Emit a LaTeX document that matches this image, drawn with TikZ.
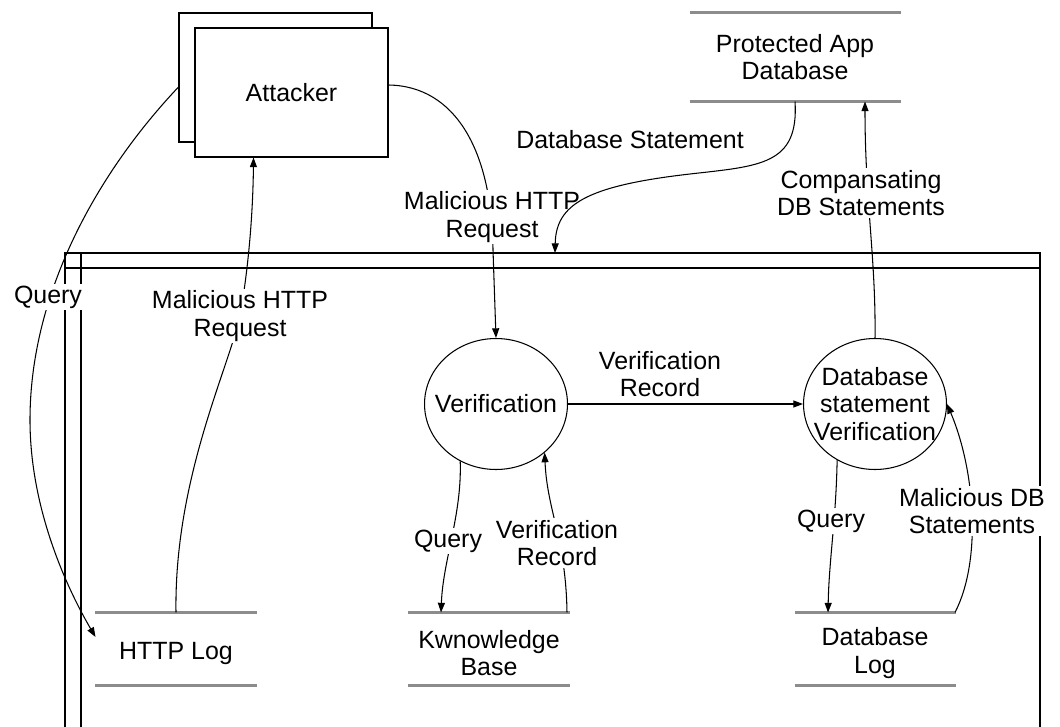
\documentclass[tikz,border=0pt]{standalone}
\usepackage{fontspec}
\setmainfont{Liberation Sans}
\usetikzlibrary{arrows.meta,shapes.geometric,shadows}

\begin{document}
\begin{tikzpicture}[x=0.02cm,y=-0.02cm,line width=0.6pt,
		every node/.style={font=\fontsize{14.2}{15.5}\selectfont,align=center},
		flow/.style={-{Triangle[length=5.5pt,width=4pt]}},
		entity/.style={draw,fill=white,minimum width=3.86cm,minimum height=2.58cm,
			copy shadow={shadow xshift=-0.32cm,shadow yshift=0.3cm}},
		proc/.style={draw,ellipse,minimum width=2.86cm,minimum height=2.62cm,inner sep=-0.25cm},
		store/.style={minimum width=3.2cm,minimum height=1.44cm},
		storeline/.style={draw=black!45,line width=1.3pt},
		lbl/.style={fill=white,inner sep=1pt}]
		\useasboundingbox (0,0) rectangle (1060,726);
		\clip (0,0) rectangle (1060,726);
		
		\draw (65,253) rectangle (1040,740);
		\draw (65,268) -- (1040,268);
		\draw (81,253) -- (81,740);
		\coordinate (sysin) at (555,253);
		
		\node[entity] (att) at (291.5,92.5) {Attacker};
		\node[store,minimum width=4.2cm,minimum height=1.76cm] (pdb) at (795,57) {Protected App\\Database};
		\node[proc] (ver) at (496,404) {Verification};
		\node[proc] (dbv) at (875,404) {Database\\statement\\Verification};
		\node[store] (hlog) at (176,653) {HTTP Log};
		\node[store] (kb) at (489,653) {Kwnowledge\\Base};
		\node[store] (dblog) at (875,653) {Database\\Log};
		
		\draw[storeline] (pdb.north west) -- (pdb.north east);
		\draw[storeline] (pdb.south west) -- (pdb.south east);
		\foreach \s in {hlog,kb,dblog}{
			\coordinate (\s-top) at ([yshift=0.08cm]\s.north);
			\draw[storeline] ([yshift=0.08cm]\s.north west) -- ([yshift=0.08cm]\s.north east);
			\draw[storeline] ([yshift=0.08cm]\s.south west) -- ([yshift=0.08cm]\s.south east);
		}
		
		\draw[flow] ([yshift=0.15cm]att.east) .. controls (455,86) and (492,150) .. (493,250) -- (ver.north);
		\node[lbl] (reqtop) at (492,217) {Malicious HTTP\\Request};
		\draw[flow] (pdb.south) .. controls (799,165) and (760,166) .. (690,174) .. controls (585,186) and (556,205) .. (sysin);
		\draw[flow] (dbv.north) .. controls (876,260) and (865,200) .. ([xshift=1.4cm]pdb.south);
		\draw[flow] ([xshift=-0.32cm,yshift=0.11cm]att.west) .. controls (100,170) and (30,290) .. (30,420) .. controls (30,510) and (68,590) .. ([yshift=0.32cm]hlog.west);
		\draw[flow] (hlog-top) .. controls (174,480) and (228,370) .. (240,316) .. controls (249,265) and (253,210) .. ([xshift=-0.76cm]att.south);
		\draw[flow] (ver) -- (dbv);
		\draw[flow] (ver.238) .. controls (462,515) and (443,560) .. ([xshift=-0.96cm]kb-top);
		\draw[flow] ([xshift=1.56cm]kb-top) .. controls (566,540) and (547,510) .. (ver.315);
		\draw[flow] (dbv.236) .. controls (836,520) and (829,560) .. ([xshift=-0.94cm]dblog-top);
		\draw[flow] ([xshift=1.6cm]dblog-top) .. controls (982,560) and (975,470) .. (dbv.east);
		
		\node[lbl] (dbstmt) at (630,140) {Database Statement};
		\node[lbl] (comp) at (861,193) {Compansating\\DB Statements};
		\node[lbl] (qleft) at (48,297) {Query};
		\node[lbl] (reqleft) at (240,316) {Malicious HTTP\\Request};
		\node[lbl] (vrec) at (660,374) {Verification\\Record};
		\node[lbl] (qkb) at (448,541) {Query};
		\node[lbl] (vreckb) at (557,543) {Verification\\Record};
		\node[lbl] (qdb) at (831,521) {Query};
		\node[lbl] (maldb) at (972,511) {Malicious DB\\Statements};
	\end{tikzpicture}
\end{document}
